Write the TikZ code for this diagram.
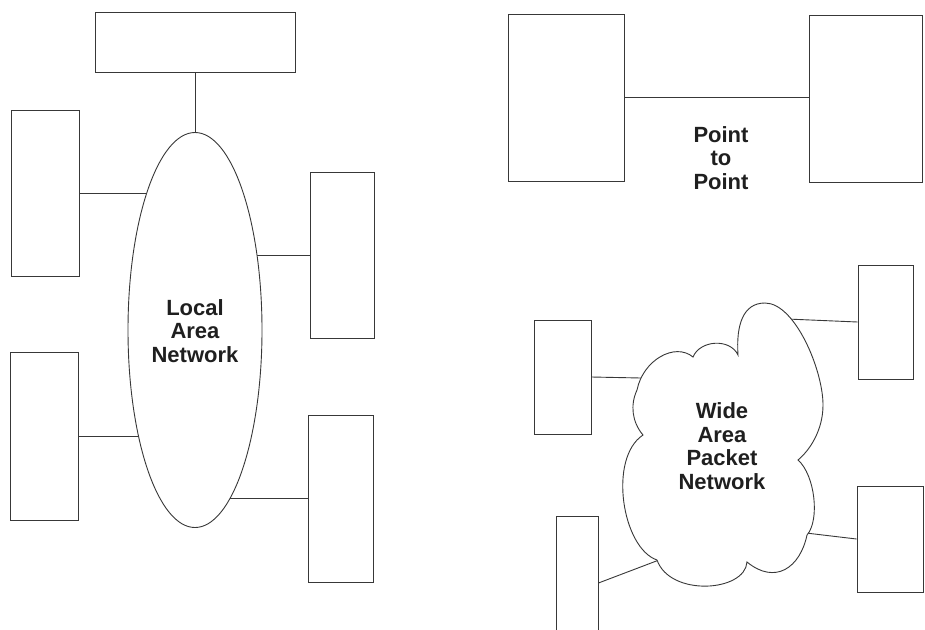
\documentclass[tikz,border=0pt]{standalone}
\usepackage{fontspec}
\setmainfont{Liberation Sans}
\usetikzlibrary{shapes.geometric}
\pgfdeclarelayer{bg}
\pgfdeclarelayer{paper}
\pgfsetlayers{paper,bg,main}
\definecolor{ln}{gray}{0.22}
\definecolor{txt}{gray}{0.12}
\begin{document}
\begin{tikzpicture}[x=1pt,y=-1pt,
  box/.style={draw=ln, line width=0.9pt, inner sep=0pt, fill=white},
  conn/.style={draw=ln, line width=0.9pt},
  lbl/.style={font=\bfseries\fontsize{22}{23.5}\selectfont, align=center, text=txt, inner sep=0pt}]
\useasboundingbox (0,0) rectangle (925,629);
\clip (0,0) rectangle (925,629);
\begin{pgfonlayer}{paper}
\fill[white] (0,0) rectangle (925,629);
\end{pgfonlayer}

% Local area network
\node[box, minimum width=200pt, minimum height=60pt] (top) at (195,42) {};
\node[box, minimum width=68pt, minimum height=166pt] (lb1) at (45,193) {};
\node[box, minimum width=64pt, minimum height=166pt] (rb1) at (342,255) {};
\node[box, minimum width=68pt, minimum height=168pt] (lb2) at (44,436) {};
\node[box, minimum width=65pt, minimum height=167pt] (rb2) at (340.5,498.5) {};
\node[box, ellipse, minimum width=134pt, minimum height=395pt] (lan) at (195,330) {};
\node[lbl] (lant) at (195,331) {Local\\Area\\Network};

\begin{pgfonlayer}{bg}
\draw[conn] (top.south) -- (lan.north);
\draw[conn] (lb1.east) -- (lb1.east -| lan.center);
\draw[conn] (lb2.east) -- (lb2.east -| lan.center);
\draw[conn] (rb1.west) -- (rb1.west -| lan.center);
\draw[conn] (rb2.west) -- (rb2.west -| lan.center);
\end{pgfonlayer}

% Point to point
\node[box, minimum width=116pt, minimum height=167pt] (pA) at (566,97.5) {};
\node[box, minimum width=113pt, minimum height=167pt] (pB) at (865.5,98.5) {};
\draw[conn] (pA.east) -- (pA.east -| pB.west);
\node[lbl] (ptp) at (721,158) {Point\\to\\Point};

% Wide area packet network
\node[box, minimum width=57pt, minimum height=114pt] (wb1) at (562.5,377) {};
\node[box, minimum width=55pt, minimum height=114pt] (wb2) at (885.5,322) {};
\node[box, minimum width=66pt, minimum height=106pt] (wb3) at (890,539) {};
\node[box, minimum width=42pt, minimum height=134pt] (wb4) at (577,583) {};
\coordinate (c1) at (641,378);
\coordinate (c2) at (787,319);
\coordinate (c3) at (806,533);
\coordinate (c4) at (659,560);
\begin{pgfonlayer}{bg}
\draw[conn] (wb1.east) -- (c1);
\draw[conn] (c2) -- (wb2.west);
\draw[conn] (c3) -- (wb3.west);
\draw[conn] (wb4.east) -- (c4);
\end{pgfonlayer}
\draw[conn, fill=white] (693,357) .. controls (700,340) and (730,338) .. (738,355)
 .. controls (736,325) and (743,303) .. (765,303)
 .. controls (795,303) and (823,370) .. (823,405)
 .. controls (823,430) and (810,450) .. (798,460)
 .. controls (815,475) and (820,520) .. (807,535)
 .. controls (800,568) and (775,585) .. (747,562)
 .. controls (745,592) and (670,597) .. (657,560)
 .. controls (622,548) and (608,458) .. (643,435)
 .. controls (632,422) and (630,405) .. (637,390)
 .. controls (643,360) and (675,342) .. (693,357) -- cycle;
\node[lbl] (want) at (722,446) {Wide\\Area\\Packet\\Network};
\end{tikzpicture}
\end{document}
